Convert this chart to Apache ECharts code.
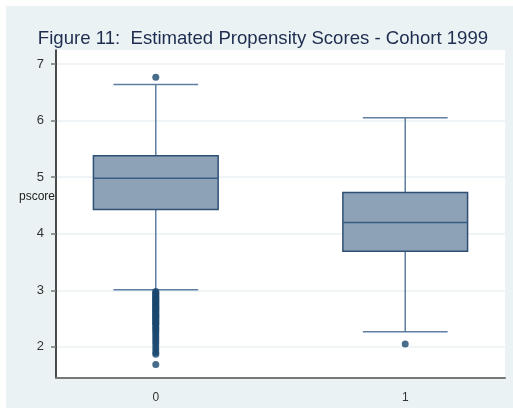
<!DOCTYPE html>
<html>
<head>
<meta charset="utf-8">
<script src="https://cdn.jsdelivr.net/npm/echarts@6/dist/echarts.min.js"></script>
<style>html,body{margin:0;padding:0;background:#fff}#c{width:513px;height:414px}</style>
</head>
<body>
<div id="c"></div>
<script>
// Data
const groups = [0, 1];
const groupLabels = ['0', '1'];
const lowerWhisker = [3.01, 2.27];
const q1 = [4.43, 3.69];
const median = [4.98, 4.20];
const q3 = [5.38, 4.73];
const upperWhisker = [6.64, 6.05];
const outliers0 = [6.77, 2.98, 2.96, 2.94, 2.92, 2.90, 2.88, 2.86, 2.84, 2.82, 2.80, 2.78, 2.76, 2.74, 2.72, 2.70,
  2.68, 2.66, 2.64, 2.62, 2.60, 2.58, 2.56, 2.54, 2.52, 2.50, 2.48, 2.46, 2.44, 2.42, 2.40, 2.37, 2.34, 2.31,
  2.28, 2.25, 2.21, 2.17, 2.13, 2.09, 2.05, 2.00, 1.95, 1.90, 1.87, 1.69];
const outliers1 = [2.05];
const yTicks = [2, 3, 4, 5, 6, 7];

const boxData = groups.map((g, i) => [g, lowerWhisker[i], q1[i], median[i], q3[i], upperWhisker[i]]);
const outlierData = outliers0.map(v => [groups[0], v]).concat(outliers1.map(v => [groups[1], v]));

const chart = echarts.init(document.getElementById('c'), null, {renderer: 'canvas'});
const BOX_W = 0.5, CAP_W = 0.34;
const option = {
  backgroundColor: '#ffffff',
  animation: false,
  graphic: [
    {type: 'rect', left: 6, top: 6, shape: {width: 507, height: 402}, style: {fill: '#EAF2F3'}, z: -10, silent: true},
    {type: 'text', left: 19, top: 191, style: {text: 'pscore', fill: '#222', font: '12px "Liberation Sans", Arial, sans-serif'}, z: 10}
  ],
  title: {
    text: 'Figure 11:  Estimated Propensity Scores - Cohort 1999',
    left: 258, top: 24, textAlign: 'center',
    textStyle: {color: '#1E2D4F', fontSize: 18.6, fontWeight: 'normal', fontFamily: '"Liberation Sans", Arial, sans-serif'}
  },
  grid: {left: 56, top: 50, right: 8, bottom: 36, show: true, backgroundColor: '#ffffff', borderWidth: 0},
  xAxis: {
    type: 'value', min: -0.4, max: 1.4,
    axisLine: {show: true, onZero: false, lineStyle: {color: '#777', width: 2}},
    axisTick: {show: false},
    splitLine: {show: false},
    axisLabel: {customValues: groups, formatter: v => groupLabels[groups.indexOf(v)] ?? '', color: '#333', fontSize: 12, margin: 14,
      fontFamily: '"Liberation Sans", Arial, sans-serif'}
  },
  yAxis: {
    type: 'value', min: 1.45, max: 7.25,
    axisLine: {show: true, onZero: false, lineStyle: {color: '#111', width: 1.5}},
    axisTick: {show: true, customValues: yTicks, length: 5, lineStyle: {color: '#777', width: 1.5}},
    splitLine: {show: true, lineStyle: {color: '#EAF2F3', width: 1.5}},
    axisLabel: {customValues: yTicks, color: '#333', fontSize: 13, margin: 12, fontFamily: '"Liberation Sans", Arial, sans-serif'}
  },
  series: [
    {
      type: 'custom',
      data: boxData,
      encode: {x: 0, y: [1, 2, 3, 4, 5]},
      renderItem: function (params, api) {
        const x = api.value(0);
        const lw = api.value(1), a = api.value(2), m = api.value(3), b = api.value(4), uw = api.value(5);
        const half = api.size([BOX_W, 0])[0] / 2;
        const capHalf = api.size([CAP_W, 0])[0] / 2;
        const pLw = api.coord([x, lw]), pA = api.coord([x, a]), pM = api.coord([x, m]), pB = api.coord([x, b]), pUw = api.coord([x, uw]);
        const wStyle = {stroke: '#5E7FA1', lineWidth: 1.5};
        return {
          type: 'group',
          children: [
            {type: 'line', shape: {x1: pUw[0], y1: pUw[1], x2: pB[0], y2: pB[1]}, style: wStyle},
            {type: 'line', shape: {x1: pLw[0], y1: pLw[1], x2: pA[0], y2: pA[1]}, style: wStyle},
            {type: 'line', shape: {x1: pUw[0] - capHalf, y1: pUw[1], x2: pUw[0] + capHalf, y2: pUw[1]}, style: wStyle},
            {type: 'line', shape: {x1: pLw[0] - capHalf, y1: pLw[1], x2: pLw[0] + capHalf, y2: pLw[1]}, style: wStyle},
            {type: 'rect', shape: {x: pB[0] - half, y: pB[1], width: 2 * half, height: pA[1] - pB[1]},
              style: {fill: '#8DA2B7', stroke: '#2F5074', lineWidth: 1.5}},
            {type: 'line', shape: {x1: pM[0] - half, y1: pM[1], x2: pM[0] + half, y2: pM[1]}, style: {stroke: '#3A5C80', lineWidth: 1.5}}
          ]
        };
      },
      z: 2
    },
    {
      type: 'scatter',
      data: outlierData,
      symbol: 'circle', symbolSize: 7,
      itemStyle: {color: '#1A476F'},
      z: 3
    }
  ]
};
chart.setOption(option);
</script>
</body>
</html>
